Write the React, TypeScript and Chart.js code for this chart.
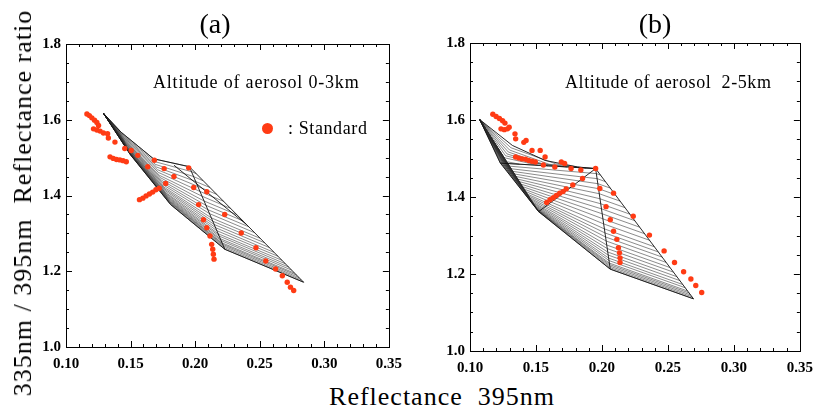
import React, { useEffect, useRef } from "react";
import { Chart, registerables } from "chart.js";

Chart.register(...registerables);

// ---------- axis ticks ----------
const xTickValues = [0.1, 0.15, 0.2, 0.25, 0.3, 0.35];
const yTickValues = [1.0, 1.2, 1.4, 1.6, 1.8];

// ---------- panel (a): Altitude of aerosol 0-3km ----------
const aDotX = [0.1162, 0.1181, 0.12, 0.1221, 0.1239, 0.1252, 0.1213, 0.1239, 0.1264, 0.129, 0.1322, 0.1328, 0.1379, 0.1455, 0.1341, 0.1366, 0.1391, 0.1417, 0.1442, 0.1467, 0.1505, 0.1556, 0.1633, 0.1684, 0.176, 0.1836, 0.195, 0.1772, 0.1722, 0.1569, 0.1595, 0.162, 0.1646, 0.1671, 0.1696, 0.1989, 0.209, 0.2027, 0.2229, 0.2065, 0.209, 0.2115, 0.2128, 0.2136, 0.2141, 0.2146, 0.2357, 0.2471, 0.2547, 0.2623, 0.2675, 0.2713, 0.2738, 0.2763];
const aDotY = [1.615, 1.611, 1.605, 1.599, 1.593, 1.585, 1.576, 1.573, 1.57, 1.565, 1.563, 1.552, 1.541, 1.524, 1.502, 1.498, 1.495, 1.494, 1.492, 1.489, 1.519, 1.506, 1.476, 1.493, 1.471, 1.45, 1.473, 1.432, 1.419, 1.389, 1.393, 1.399, 1.404, 1.409, 1.415, 1.421, 1.41, 1.376, 1.35, 1.336, 1.315, 1.293, 1.271, 1.258, 1.245, 1.232, 1.301, 1.262, 1.227, 1.206, 1.188, 1.171, 1.158, 1.149];

const aGridCurves: number[][][] = [
  [[0.129, 1.617], [0.1427, 1.567], [0.1677, 1.497], [0.1955, 1.476]],
  [[0.129, 1.617], [0.1431, 1.5634], [0.1685, 1.4897], [0.1972, 1.4629], [0.2008, 1.4577]],
  [[0.129, 1.617], [0.1436, 1.56], [0.1693, 1.482], [0.1988, 1.45], [0.2061, 1.439]],
  [[0.129, 1.617], [0.144, 1.5562], [0.1701, 1.4752], [0.2005, 1.4368], [0.2114, 1.4211]],
  [[0.129, 1.617], [0.1445, 1.553], [0.1709, 1.468], [0.2021, 1.424], [0.2167, 1.403]],
  [[0.129, 1.617], [0.1449, 1.549], [0.1717, 1.4607], [0.2038, 1.4106], [0.2221, 1.3845]],
  [[0.129, 1.617], [0.1453, 1.545], [0.1725, 1.453], [0.2054, 1.398], [0.2274, 1.366]],
  [[0.129, 1.617], [0.1457, 1.5421], [0.1732, 1.4468], [0.2069, 1.3855], [0.2322, 1.3494]],
  [[0.129, 1.617], [0.1461, 1.539], [0.174, 1.44], [0.2084, 1.374], [0.2371, 1.333]],
  [[0.129, 1.617], [0.1465, 1.5358], [0.1746, 1.4341], [0.2098, 1.3626], [0.2415, 1.3174]],
  [[0.129, 1.617], [0.1469, 1.533], [0.1753, 1.428], [0.2112, 1.352], [0.2459, 1.302]],
  [[0.129, 1.617], [0.1472, 1.5298], [0.1759, 1.422], [0.2126, 1.3408], [0.2504, 1.2869]],
  [[0.129, 1.617], [0.1475, 1.527], [0.1765, 1.417], [0.2137, 1.332], [0.2539, 1.275]],
  [[0.129, 1.617], [0.1478, 1.525], [0.177, 1.4123], [0.2148, 1.3234], [0.2575, 1.2625]],
  [[0.129, 1.617], [0.1481, 1.523], [0.1775, 1.407], [0.2159, 1.315], [0.261, 1.25]],
  [[0.129, 1.617], [0.1484, 1.5205], [0.178, 1.4032], [0.2168, 1.3071], [0.2641, 1.2396]],
  [[0.129, 1.617], [0.1486, 1.518], [0.1785, 1.399], [0.2178, 1.299], [0.2672, 1.229]],
  [[0.129, 1.617], [0.1488, 1.5166], [0.1789, 1.3954], [0.2186, 1.2929], [0.2698, 1.2198]],
  [[0.129, 1.617], [0.1491, 1.515], [0.1793, 1.392], [0.2194, 1.286], [0.2725, 1.211]],
  [[0.129, 1.617], [0.1492, 1.5133], [0.1796, 1.3887], [0.2201, 1.2809], [0.2747, 1.203]],
  [[0.129, 1.617], [0.1494, 1.512], [0.1799, 1.386], [0.2208, 1.275], [0.2769, 1.195]],
  [[0.129, 1.617], [0.1496, 1.5106], [0.1802, 1.3833], [0.2214, 1.2711], [0.2787, 1.1893]],
  [[0.129, 1.617], [0.1497, 1.509], [0.1805, 1.381], [0.2219, 1.267], [0.2805, 1.183]],
  [[0.129, 1.617], [0.1499, 1.5082], [0.1807, 1.3784], [0.2225, 1.2624], [0.2822, 1.1771]],
  [[0.129, 1.617], [0.15, 1.507], [0.181, 1.376], [0.223, 1.258], [0.284, 1.171]],
];
const aDarkLines: number[][][] = [
  [[0.1955, 1.476], [0.223, 1.258]],
  [[0.1955, 1.476], [0.284, 1.171]],
  [[0.1836, 1.48], [0.2395, 1.324]],
  [[0.129, 1.617], [0.1427, 1.567], [0.1677, 1.497], [0.1955, 1.476]],
  [[0.129, 1.617], [0.15, 1.507], [0.181, 1.376], [0.223, 1.258], [0.284, 1.171]],
];

// ---------- panel (b): Altitude of aerosol 2-5km ----------
const bDotX = [0.1173, 0.1198, 0.1223, 0.1247, 0.1265, 0.1235, 0.126, 0.1284, 0.1297, 0.1341, 0.1346, 0.1408, 0.1425, 0.147, 0.1532, 0.1569, 0.1346, 0.1371, 0.1395, 0.1421, 0.1445, 0.147, 0.1495, 0.1556, 0.1643, 0.1692, 0.1717, 0.1766, 0.184, 0.1952, 0.1853, 0.1779, 0.1729, 0.1581, 0.1606, 0.1631, 0.1655, 0.168, 0.1705, 0.1984, 0.2088, 0.2031, 0.2063, 0.2088, 0.2113, 0.2125, 0.2133, 0.2137, 0.2137, 0.2237, 0.236, 0.2471, 0.255, 0.2619, 0.2674, 0.2711, 0.2756];
const bDotY = [1.615, 1.609, 1.604, 1.598, 1.592, 1.577, 1.575, 1.577, 1.581, 1.564, 1.551, 1.542, 1.547, 1.521, 1.521, 1.504, 1.504, 1.501, 1.499, 1.498, 1.495, 1.493, 1.491, 1.483, 1.478, 1.491, 1.487, 1.474, 1.47, 1.474, 1.448, 1.431, 1.421, 1.386, 1.393, 1.398, 1.404, 1.41, 1.414, 1.422, 1.41, 1.375, 1.341, 1.311, 1.29, 1.268, 1.255, 1.242, 1.23, 1.35, 1.301, 1.26, 1.23, 1.206, 1.187, 1.17, 1.152];

const bGridCurves: number[][][] = [
  [[0.1074, 1.601], [0.131, 1.528], [0.165, 1.486], [0.188, 1.475]],
  [[0.1074, 1.601], [0.13, 1.522], [0.16, 1.485], [0.1808, 1.4766]],
  [[0.1074, 1.601], [0.129, 1.517], [0.155, 1.486], [0.1735, 1.478]],
  [[0.1074, 1.601], [0.128, 1.512], [0.15, 1.488], [0.1663, 1.4795]],
  [[0.1074, 1.601], [0.127, 1.507], [0.159, 1.481]],
  [[0.1074, 1.601], [0.126, 1.502], [0.1519, 1.4823]],
  [[0.1074, 1.601], [0.1245, 1.494], [0.1374, 1.4852]],
  [[0.1074, 1.601], [0.123, 1.488], [0.1952, 1.4738]],
  [[0.1074, 1.601], [0.1245, 1.4817], [0.1958, 1.4607], [0.1989, 1.4569]],
  [[0.1074, 1.601], [0.1259, 1.4754], [0.1963, 1.4477], [0.2026, 1.44]],
  [[0.1074, 1.601], [0.1274, 1.4691], [0.1969, 1.4346], [0.2063, 1.4231]],
  [[0.1074, 1.601], [0.1288, 1.4628], [0.1974, 1.4216], [0.21, 1.4061]],
  [[0.1074, 1.601], [0.1303, 1.4565], [0.198, 1.4085], [0.2138, 1.3892]],
  [[0.1074, 1.601], [0.1317, 1.4502], [0.1985, 1.3954], [0.2175, 1.3723]],
  [[0.1074, 1.601], [0.1332, 1.4439], [0.1991, 1.3824], [0.2212, 1.3554]],
  [[0.1074, 1.601], [0.1346, 1.4376], [0.1996, 1.3693], [0.2249, 1.3385]],
  [[0.1074, 1.601], [0.1361, 1.4313], [0.2002, 1.3563], [0.2286, 1.3216]],
  [[0.1074, 1.601], [0.1375, 1.425], [0.2008, 1.3432], [0.2323, 1.3046]],
  [[0.1074, 1.601], [0.139, 1.4187], [0.2013, 1.3301], [0.236, 1.2877]],
  [[0.1074, 1.601], [0.1404, 1.4124], [0.2019, 1.3171], [0.2397, 1.2708]],
  [[0.1074, 1.601], [0.1416, 1.4074], [0.2023, 1.3066], [0.2427, 1.2573]],
  [[0.1074, 1.601], [0.1427, 1.4023], [0.2027, 1.2962], [0.2457, 1.2438]],
  [[0.1074, 1.601], [0.1439, 1.3973], [0.2032, 1.2857], [0.2486, 1.2302]],
  [[0.1074, 1.601], [0.145, 1.3922], [0.2036, 1.2753], [0.2516, 1.2167]],
  [[0.1074, 1.601], [0.1461, 1.3878], [0.204, 1.2661], [0.2542, 1.2048]],
  [[0.1074, 1.601], [0.1471, 1.3834], [0.2044, 1.257], [0.2568, 1.193]],
  [[0.1074, 1.601], [0.1479, 1.3796], [0.2047, 1.2492], [0.259, 1.1829]],
  [[0.1074, 1.601], [0.1488, 1.3759], [0.2051, 1.2413], [0.2612, 1.1727]],
  [[0.1074, 1.601], [0.1495, 1.3727], [0.2054, 1.2348], [0.2631, 1.1643]],
  [[0.1074, 1.601], [0.1503, 1.3696], [0.2056, 1.2283], [0.2649, 1.1558]],
  [[0.1074, 1.601], [0.1507, 1.3677], [0.2058, 1.2244], [0.2661, 1.1507]],
  [[0.1074, 1.601], [0.1511, 1.3658], [0.206, 1.2204], [0.2672, 1.1456]],
  [[0.1074, 1.601], [0.1516, 1.3639], [0.2061, 1.2165], [0.2683, 1.1406]],
  [[0.1074, 1.601], [0.152, 1.362], [0.2063, 1.2126], [0.2694, 1.1355]],
];
const bDarkLines: number[][][] = [
  [[0.1952, 1.4738], [0.2063, 1.2126]],
  [[0.1952, 1.4738], [0.2694, 1.1355]],
  [[0.1952, 1.4738], [0.152, 1.362]],
  [[0.1074, 1.601], [0.123, 1.488], [0.152, 1.362], [0.2063, 1.2126], [0.2694, 1.1355]],
  [[0.1074, 1.601], [0.1321, 1.534], [0.1569, 1.495], [0.1816, 1.478], [0.1952, 1.4738]],
  [[0.123, 1.488], [0.1952, 1.4738]],
];

const RED = "#ff3b14";
const SERIF = '"Liberation Serif", "Times New Roman", serif';

Chart.defaults.font.family = SERIF;
Chart.defaults.font.size = 15;
Chart.defaults.font.weight = "bold";
Chart.defaults.color = "#000";

const frameTicks = {
  id: "frameTicks",
  afterDraw(chart: any) {
    const { ctx, chartArea: a, scales } = chart;
    const xs = scales.x;
    const ys = scales.y;
    ctx.save();
    ctx.strokeStyle = "#000";
    ctx.lineWidth = 1;
    ctx.strokeRect(Math.round(a.left) + 0.5, Math.round(a.top) + 0.5, Math.round(a.width), Math.round(a.height));
    ctx.beginPath();
    for (let i = 0; i <= 25; i++) {
      const px = Math.round(xs.getPixelForValue(0.1 + i * 0.01)) + 0.5;
      const len = i % 5 === 0 ? 6 : 3;
      ctx.moveTo(px, a.bottom);
      ctx.lineTo(px, a.bottom - len);
      ctx.moveTo(px, a.top);
      ctx.lineTo(px, a.top + len);
    }
    for (let i = 0; i <= 16; i++) {
      const py = Math.round(ys.getPixelForValue(1 + i * 0.05)) + 0.5;
      const len = i % 4 === 0 ? 6 : 3;
      ctx.moveTo(a.left, py);
      ctx.lineTo(a.left + len, py);
      ctx.moveTo(a.right, py);
      ctx.lineTo(a.right - len, py);
    }
    ctx.stroke();
    ctx.restore();
  },
};

type PanelProps = {
  curves: number[][][];
  dark: number[][][];
  dotX: number[];
  dotY: number[];
  left: number;
  top: number;
  width: number;
  height: number;
};

function Panel({ curves, dark, dotX, dotY, left, top, width, height }: PanelProps) {
  const ref = useRef<HTMLCanvasElement>(null);
  useEffect(() => {
    if (!ref.current) return;
    const datasets: any[] = [];
    datasets.push({
      data: dotX.map((x, i) => ({ x, y: dotY[i] })),
      showLine: false,
      pointRadius: 2.7,
      pointBackgroundColor: RED,
      pointBorderWidth: 0,
    });
    dark.forEach((l) =>
      datasets.push({
        data: l.map((p) => ({ x: p[0], y: p[1] })),
        showLine: true,
        borderColor: "#111111",
        borderWidth: 0.9,
        pointRadius: 0,
      })
    );
    curves.forEach((l) =>
      datasets.push({
        data: l.map((p) => ({ x: p[0], y: p[1] })),
        showLine: true,
        borderColor: "#2a2a2a",
        borderWidth: 0.55,
        pointRadius: 0,
      })
    );
    const tickFont = { family: SERIF, size: 15, weight: "bold" };
    const chart = new Chart(ref.current, {
      type: "scatter",
      data: { datasets },
      options: {
        animation: false,
        responsive: false,
        maintainAspectRatio: false,
        devicePixelRatio: 1,
        layout: { padding: { top: 12, right: 14, bottom: 0, left: 0 } },
        plugins: { legend: { display: false }, tooltip: { enabled: false } },
        scales: {
          x: {
            type: "linear",
            min: 0.1,
            max: 0.35,
            grid: { display: false, drawTicks: false },
            border: { display: false },
            afterBuildTicks: (s: any) => {
              s.ticks = xTickValues.map((v) => ({ value: v }));
            },
            afterFit: (s: any) => {
              s.height = 23;
            },
            ticks: {
              color: "#000",
              font: tickFont,
              padding: 8,
              maxRotation: 0,
              autoSkip: false,
              callback: (v: any) => Number(v).toFixed(2),
            },
          },
          y: {
            type: "linear",
            min: 1.0,
            max: 1.8,
            grid: { display: false, drawTicks: false },
            border: { display: false },
            afterBuildTicks: (s: any) => {
              s.ticks = yTickValues.map((v) => ({ value: v }));
            },
            afterFit: (s: any) => {
              s.width = 40;
            },
            ticks: {
              color: "#000",
              font: tickFont,
              padding: 5,
              autoSkip: false,
              callback: (v: any) => Number(v).toFixed(1),
            },
          },
        },
      } as any,
      plugins: [frameTicks],
    });
    return () => chart.destroy();
  }, []);
  return (
    <canvas
      ref={ref}
      width={width}
      height={height}
      style={{ position: "absolute", left, top, width, height }}
    />
  );
}

const textBase: React.CSSProperties = {
  position: "absolute",
  fontFamily: SERIF,
  color: "#000",
  whiteSpace: "pre",
  lineHeight: 1,
};

export default function App() {
  return (
    <div
      style={{
        position: "absolute",
        left: 0,
        top: 0,
        width: 822,
        height: 413,
        background: "#fff",
        overflow: "hidden",
      }}
    >
      <Panel curves={aGridCurves} dark={aDarkLines} dotX={aDotX} dotY={aDotY} left={26} top={30} width={384} height={340} />
      <Panel curves={bGridCurves} dark={bDarkLines} dotX={bDotX} dotY={bDotY} left={430} top={29} width={391} height={345} />

      <div style={{ ...textBase, fontSize: 28, left: 215, top: 10, transform: "translateX(-50%)" }}>(a)</div>
      <div style={{ ...textBase, fontSize: 28, left: 655, top: 10, transform: "translateX(-50%)" }}>(b)</div>

      <div style={{ ...textBase, fontSize: 18, letterSpacing: 0.8, left: 153, top: 73 }}>Altitude of aerosol 0-3km</div>
      <div style={{ ...textBase, fontSize: 18, letterSpacing: 0.6, left: 565, top: 73 }}>Altitude of aerosol  2-5km</div>

      <div
        style={{
          position: "absolute",
          left: 261.5,
          top: 122.5,
          width: 11,
          height: 11,
          borderRadius: "50%",
          background: RED,
        }}
      />
      <div style={{ ...textBase, fontSize: 18, letterSpacing: 0.6, left: 288, top: 119 }}>: Standard</div>

      <div
        style={{
          ...textBase,
          fontSize: 26,
          letterSpacing: 1,
          left: 23,
          top: 203,
          transform: "translate(-50%, -50%) rotate(-90deg)",
        }}
      >
        335nm / 395nm  Reflectance ratio
      </div>
      <div style={{ ...textBase, fontSize: 26, letterSpacing: 1, left: 442, top: 384, transform: "translateX(-50%)" }}>
        Reflectance  395nm
      </div>
    </div>
  );
}
